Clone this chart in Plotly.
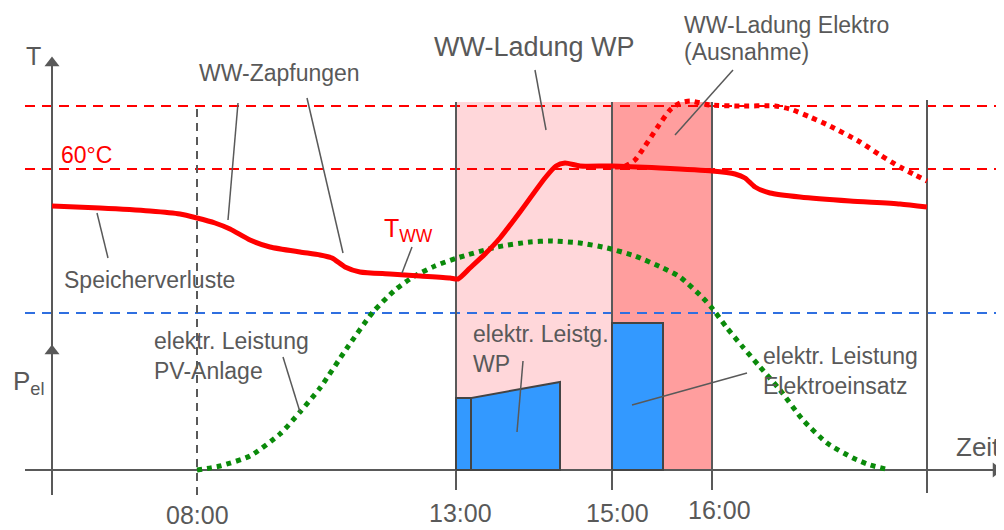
import plotly.graph_objects as go

# ---------------- data (schematic diagram units; y = 0 is the time axis) ----------------
tick_labels = ["08:00", "13:00", "15:00", "16:00"]
tick_x = [145, 404, 560, 660]
end_x = 875

T_upper = 364      # upper red dashed level
T_60 = 301         # 60 °C level
P_limit = 157      # blue dashed level

# storage temperature T_WW (solid red)
tww_x = [0, 48, 98, 128, 145, 163, 178, 198, 218, 248, 268, 280, 293, 308, 338, 368, 398, 406,
         418, 433, 448, 468, 493, 504, 513, 528, 560, 608, 660, 683, 693, 703, 718, 748, 798, 848, 875]
tww_y = [264, 262, 259, 256, 252, 247, 241, 230, 223, 218, 215, 212, 203, 198, 196, 194, 192, 191,
         202, 216, 232, 258, 292, 304, 307, 304, 304, 302, 299, 296, 292, 283, 277, 273, 269, 266, 263]

# exceptional electric charging (dotted red)
elek_x = [563, 573, 583, 593, 605, 618, 628, 638, 658, 688, 723, 738, 758, 778, 808, 828, 848, 863, 875]
elek_y = [303, 304, 310, 324, 342, 360, 367, 369, 365, 364, 364, 361, 353, 344, 328, 315, 303, 295, 289]

# PV power (dotted green)
pv_x = [145, 168, 198, 228, 248, 268, 295, 321, 343, 361, 383, 405, 445, 478, 498, 528, 555, 583,
        611, 628, 651, 660, 675, 690, 708, 728, 751, 775, 801, 818, 838]
pv_y = [0, 4, 14, 36, 58, 82, 122, 158, 180, 193, 204, 212, 223, 228, 229, 227, 222, 214,
        202, 193, 172, 162, 142, 124, 103, 80, 50, 27, 12, 5, 0]

# heat pump power block (start-up step + ramp)
wp_step_x = [404, 419]
wp_step_y = [72, 72]
wp_ramp_x = [419, 508]
wp_ramp_y = [72, 88]
# electric heater power block
el_x = [560, 611]
el_y = [147, 147]

# ---------------- styles ----------------
GRAY = "#595959"
RED = "#FF0000"
BLUE_FILL = "#3399FF"
FONT = "Liberation Sans, Arial, sans-serif"

fig = go.Figure()

# shaded charging periods
fig.add_shape(type="rect", x0=tick_x[1], x1=tick_x[2], y0=0, y1=T_upper + 4,
              fillcolor="#FFD7DA", line_width=0, layer="below")
fig.add_shape(type="rect", x0=tick_x[2], x1=tick_x[3], y0=0, y1=T_upper + 4,
              fillcolor="#FF9E9E", line_width=0, layer="below")

# horizontal reference levels
for lvl, col in [(T_upper, RED), (T_60, RED), (P_limit, "#2F6FE0")]:
    fig.add_shape(type="line", x0=-27, x1=952, y0=lvl, y1=lvl,
                  line=dict(color=col, width=2, dash="10px,7px"), layer="below")

# time verticals
fig.add_shape(type="line", x0=tick_x[0], x1=tick_x[0], y0=-25, y1=T_upper,
              line=dict(color=GRAY, width=2, dash="8px,6px"), layer="below")
for tx in tick_x[1:]:
    fig.add_shape(type="line", x0=tx, x1=tx, y0=-20, y1=T_upper + 4,
                  line=dict(color=GRAY, width=2), layer="below")
fig.add_shape(type="line", x0=end_x, x1=end_x, y0=-23, y1=T_upper + 6,
              line=dict(color=GRAY, width=2), layer="below")

# axes
fig.add_shape(type="line", x0=0, x1=0, y0=-25, y1=405, line=dict(color=GRAY, width=2), layer="below")
fig.add_shape(type="line", x0=-27, x1=945, y0=0, y1=0, line=dict(color=GRAY, width=2), layer="below")
fig.add_trace(go.Scatter(x=[0, 0, 944], y=[407, 119, 0], mode="markers",
                         marker=dict(symbol=["triangle-up", "triangle-up", "triangle-right"],
                                     size=13, color=GRAY, line_width=0),
                         hoverinfo="skip", showlegend=False))

# power blocks
def block(xs, ys):
    px = [xs[0], xs[0], xs[1], xs[1], xs[0]]
    py = [0, ys[0], ys[1], 0, 0]
    fig.add_trace(go.Scatter(x=px, y=py, mode="lines", fill="toself", fillcolor=BLUE_FILL,
                             line=dict(color="#444444", width=2), hoverinfo="skip", showlegend=False))

block(wp_step_x, wp_step_y)
block(wp_ramp_x, wp_ramp_y)
block(el_x, el_y)

# curves
fig.add_trace(go.Scatter(x=pv_x, y=pv_y, mode="lines", line=dict(color="#0A8A0A", width=5, dash="5px,5px", shape="spline", smoothing=0.6),
                         hoverinfo="skip", showlegend=False))
fig.add_trace(go.Scatter(x=elek_x, y=elek_y, mode="lines", line=dict(color=RED, width=5, dash="5px,5px", shape="spline", smoothing=0.6),
                         hoverinfo="skip", showlegend=False))
fig.add_trace(go.Scatter(x=tww_x, y=tww_y, mode="lines", line=dict(color=RED, width=5, shape="spline", smoothing=0.6),
                         hoverinfo="skip", showlegend=False))

# leader lines
leaders = [((186, 367), (176, 250)), ((255, 372), (291, 217)), ((45, 257), (56, 212)),
           ((483, 400), (494, 340)), ((681, 400), (623, 335)), ((360, 223), (350, 197)),
           ((231, 113), (248, 58)), ((471, 109), (465, 38)), ((695, 97), (580, 65))]
for (a, b) in leaders:
    fig.add_shape(type="line", x0=a[0], y0=a[1], x1=b[0], y1=b[1],
                  line=dict(color=GRAY, width=1.5), layer="above")

# texts
def label(x, y, text, size=23, color=GRAY, anchor="left", align="left"):
    fig.add_annotation(x=x, y=y, text=text, showarrow=False, xanchor=anchor, yanchor="middle",
                       align=align, font=dict(family=FONT, size=size, color=color))

label(-28, 414, "T", size=25)
label(-41, 88, "P<sub>el</sub>", size=26)
label(902, 23, "Zeit", size=26)
label(145, 397, "WW-Zapfungen")
label(7, 315, "60°C", color=RED)
label(380, 423, "WW-Ladung WP", size=27)
label(630, 445, "WW-Ladung Elektro")
label(630, 418, "(Ausnahme)")
label(10, 190, "Speicherverluste")
label(330, 240, "T<sub>WW</sub>", size=25, color=RED)
label(100, 114, "elektr. Leistung<br>PV-Anlage")
label(419, 121, "elektr. Leistg.<br>WP")
label(709, 99, "elektr. Leistung<br>Elektroeinsatz")

x_off = [0, 4, 5, 7]
y_pos = [-45, -43, -43, -40]
for lab, tx, dx, ty in zip(tick_labels, tick_x, x_off, y_pos):
    label(tx + dx, ty, lab, size=25, anchor="center", align="center")

# page body keeps an 8 px margin, so the figure is 996 x 522 and the ranges compensate
fig.update_layout(
    width=996, height=522, autosize=False,
    margin=dict(l=0, r=0, t=0, b=0),
    paper_bgcolor="white", plot_bgcolor="white",
    xaxis=dict(range=[-44, 952], visible=False, fixedrange=True),
    yaxis=dict(range=[-60, 462], visible=False, fixedrange=True),
    showlegend=False,
    font=dict(family=FONT),
)

fig.write_html("out.html")
